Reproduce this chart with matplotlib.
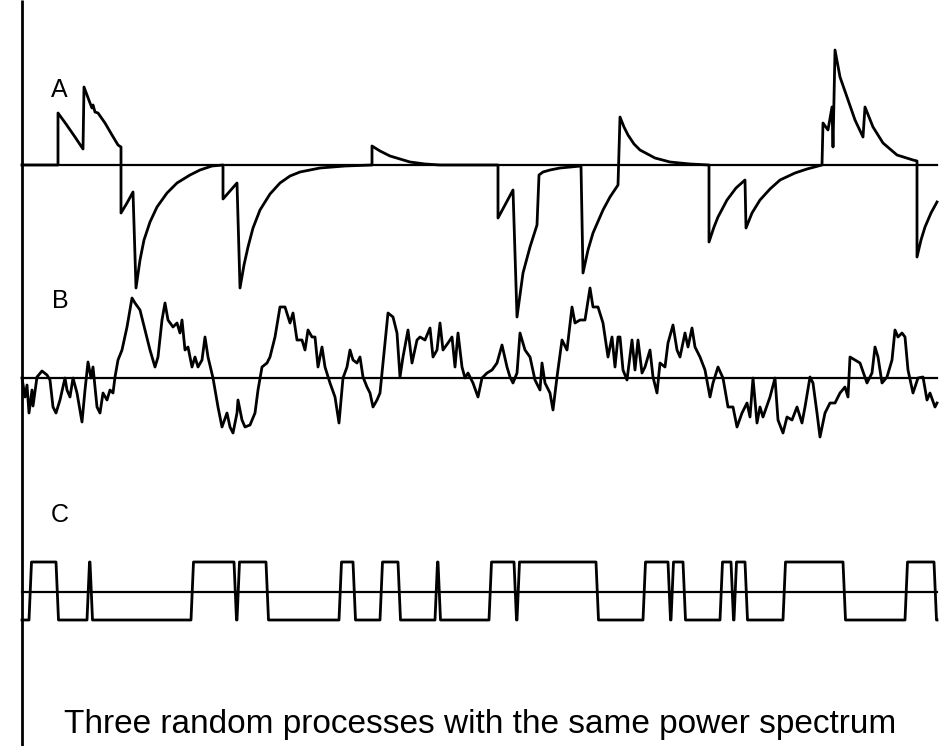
#!/usr/bin/env python3
"""Three random processes with the same power spectrum (shot noise, Gaussian noise, telegraph)."""

import matplotlib
matplotlib.use('Agg')
import matplotlib.pyplot as plt
import numpy as np

plt.rcParams['font.family'] = ['Liberation Sans', 'DejaVu Sans']

# Time axis runs in screen units from 22 to 937; amplitudes are in the same units (up = positive)

# A: shot noise (exponentially decaying impulses), vertices
a_t = [22, 58, 58, 66, 75, 83, 84, 87, 90, 92, 93, 95, 98, 105, 112, 118, 121,
       121, 127, 133, 136, 140, 144, 150, 157, 167, 177, 190, 200, 212, 223,
       223, 230, 237, 240, 244, 248, 253, 260, 270, 280, 290, 300, 320, 345, 372,
       372, 380, 390, 400, 410, 425, 440, 498,
       498, 505, 513, 517, 520, 523, 530, 537, 539, 543, 550, 560, 581,
       583, 588, 593, 603, 610, 618,
       620, 624, 628, 634, 640, 655, 670, 690, 709,
       709, 714, 718, 727, 736, 745, 746, 752, 760, 770, 780, 795, 807, 822,
       823, 828, 832, 833, 835, 840, 847, 855, 863, 865, 873, 883, 897, 913, 917,
       917, 921, 925, 931, 937]
a_val = [0, 0, 52, 41, 28, 16, 78, 70, 62, 57, 60, 53, 52, 42, 30, 20, 18,
         -48, -38, -27, -123, -95, -75, -57, -42, -28, -18, -10, -5, -1, 0,
         -34, -26, -18, -123, -100, -82, -63, -45, -29, -18, -11, -7, -3, -1, 0,
         19, 14, 9, 6, 3, 1, 0, 0,
         -53, -40, -25, -152, -130, -108, -82, -60, -10, -7, -5, -3, -1,
         -108, -85, -68, -45, -32, -20,
         48, 38, 30, 21, 15, 7, 3, 1, 0,
         -77, -62, -52, -35, -23, -15, -63, -48, -35, -24, -15, -8, -4, 0,
         42, 35, 58, 18, 115, 88, 68, 45, 28, 58, 38, 22, 10, 5, 4,
         -92, -75, -62, -48, -37]

# B: Gaussian (Ornstein-Uhlenbeck-like) noise
b_t = [22, 25, 27, 29, 32, 33, 37, 42, 47, 50, 53, 56, 60, 65, 67, 70, 73, 77,
       82, 85, 88, 91, 93, 97, 100, 103, 107, 110, 113, 115, 118, 122, 127, 132,
       135, 140, 145, 150, 155, 158, 162, 165, 168, 173, 177, 180, 182, 185, 188,
       192, 195, 198, 202, 205, 208, 213, 218, 222, 227, 230, 233, 237, 238, 242,
       245, 250, 255, 258, 262, 267, 270, 275, 280, 285, 290, 293, 297, 302, 305,
       308, 312, 315, 318, 322, 325, 330, 335, 339, 343, 347, 350, 353, 357, 360,
       363, 367, 370, 373, 377, 380, 383, 388, 393, 397, 400, 403, 408, 412, 417,
       420, 425, 430, 433, 437, 440, 443, 448, 452, 455, 458, 462, 465, 468, 473,
       478, 482, 487, 492, 497, 502, 507, 510, 513, 517, 520, 525, 530, 535, 540,
       542, 545, 550, 553, 557, 562, 567, 572, 575, 580, 585, 590, 593, 598, 603,
       608, 612, 615, 618, 620, 623, 627, 632, 635, 638, 642, 645, 650, 653, 657,
       660, 665, 668, 673, 677, 680, 685, 688, 692, 695, 700, 705, 710, 713, 718,
       723, 728, 733, 737, 742, 747, 750, 753, 757, 760, 763, 770, 775, 778, 783,
       787, 792, 797, 802, 805, 810, 813, 817, 820, 825, 830, 835, 840, 845, 848,
       850, 855, 860, 867, 872, 875, 878, 882, 887, 892, 895, 898, 902, 905, 908,
       913, 918, 923, 927, 930, 935, 937]
b_val = [0, -19, -7, -35, -12, -28, 1, 7, 3, -2, -29, -35, -22, 0, -12, -19, 0, -15,
         -44, -12, 16, 0, 11, -29, -35, -15, -22, -12, -15, 1, 18, 28, 51, 80,
         75, 68, 48, 28, 11, 21, 58, 75, 58, 51, 55, 45, 58, 28, 31,
         11, 21, 11, 18, 41, 21, 0, -29, -49, -35, -49, -55, -35, -22, -42,
         -49, -47, -35, -12, 11, 15, 21, 41, 71, 71, 55, 65, 38, 38, 28,
         48, 41, 41, 11, 31, 11, -5, -19, -45, 0, 11, 28, 18, 15, 21,
         1, -9, -15, -29, -22, -15, 15, 65, 61, 45, 1, 21, 48, 15, 38,
         41, 38, 50, 21, 28, 55, 28, 35, 41, 11, 45, 11, 0, 5, -5,
         -19, 0, 5, 8, 15, 33, 11, 1, -5, 5, 45, 28, 21, -2, -12,
         15, -5, -15, -32, 1, 38, 28, 71, 55, 58, 58, 90, 71, 71, 55,
         21, 41, 11, 41, 41, 8, -2, 38, 8, 38, 5, 11, 28, 1, -15,
         15, 11, 35, 53, 28, 21, 45, 31, 50, 31, 21, 8, -19, -5, 11,
         0, -29, -29, -49, -35, -25, -39, 0, -45, -29, -39, -19, 0, -42, -55,
         -39, -42, -29, -45, -29, 1, -5, -35, -59, -35, -25, -25, -15, -9, -19,
         21, 18, 15, -5, 5, 31, 21, -5, 1, 18, 48, 41, 45, 41, 8,
         -15, 0, 1, -22, -15, -29, -25]

# C: random telegraph signal, switch times (starts low)
c_switch = [29, 56, 87, 90, 191, 234, 237, 266, 339, 353, 380, 398, 435, 438,
            489, 514, 517, 596, 643, 668, 671, 683, 720, 731, 734, 745, 783, 843,
            905, 934]
c_high, c_low = 30, -28
t_start, t_end = 22, 937

labels = ['A', 'B', 'C']
title = 'Three random processes with the same power spectrum'

BASES = {'A': 165, 'B': 378, 'C': 592}
LABEL_POS = {'A': (59, 90), 'B': (60, 301), 'C': (60, 515)}


def telegraph(switches, lo, hi, t0, t1, ramp=2.5):
    xs, ys = [t0], [lo]
    level = lo
    for s in switches:
        xs.append(s)
        ys.append(level)
        level = hi if level == lo else lo
        xs.append(s + ramp)
        ys.append(level)
    xs.append(t1)
    ys.append(level)
    return np.array(xs), np.array(ys)


fig = plt.figure(figsize=(9.48, 7.46), dpi=100)
ax = fig.add_axes([0, 0, 1, 1])
ax.set_xlim(0, 948)
ax.set_ylim(746, 0)
ax.axis('off')

# left vertical axis
ax.plot([22, 22], [0, 746], color='black', linewidth=2.0, solid_capstyle='butt')

# baselines
for key in labels:
    ax.plot([22, 937], [BASES[key], BASES[key]], color='black', linewidth=1.6)

lw = 2.0
ax.plot(a_t, BASES['A'] - np.array(a_val), color='black', linewidth=lw)
ax.plot(b_t, BASES['B'] - np.array(b_val), color='black', linewidth=lw)
cx, cy = telegraph(c_switch, c_low, c_high, t_start, t_end)
ax.plot(cx, BASES['C'] - cy, color='black', linewidth=lw)

for key in labels:
    x, y = LABEL_POS[key]
    ax.text(x, y, key, fontsize=18, ha='center', va='center')

ax.text(480, 733, title, fontsize=24, ha='center', va='baseline')

fig.savefig('out.png', dpi=100)
